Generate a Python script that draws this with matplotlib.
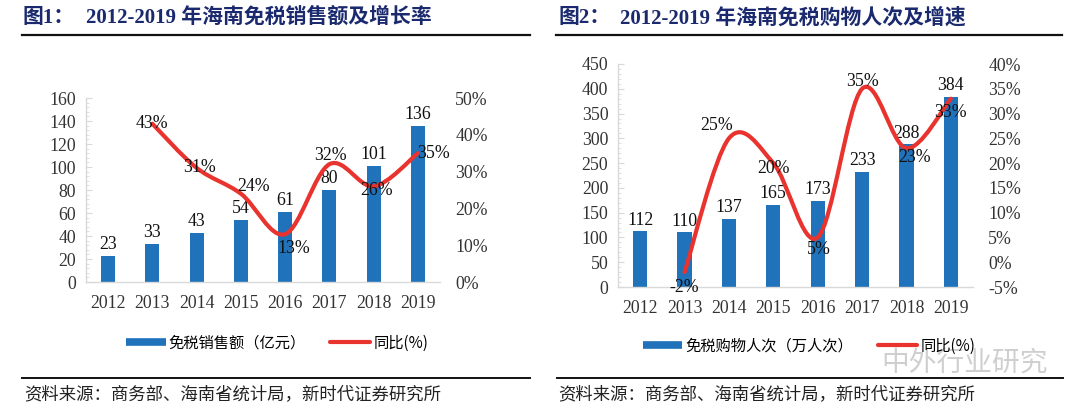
import matplotlib
matplotlib.use("Agg")
import matplotlib.pyplot as plt
from matplotlib.path import Path
from matplotlib.patches import PathPatch
from matplotlib.lines import Line2D
from matplotlib.ticker import MultipleLocator, FuncFormatter

years = ["2012", "2013", "2014", "2015", "2016", "2017", "2018", "2019"]

# 图1: 销售额 (亿元) and 同比
sales = [23, 33, 43, 54, 61, 80, 101, 136]
sales_yoy = [None, 43, 31, 24, 13, 32, 26, 35]

# 图2: 购物人次 (万人次) and 同比
visits = [112, 110, 137, 165, 173, 233, 288, 384]
visits_yoy = [None, -2, 25, 20, 5, 35, 23, 33]

BLUE = "#2072BA"
RED = "#E8332E"
NAVY = "#1B2A6E"
SERIF = ["Liberation Serif", "Noto Sans CJK SC"]
CJK = ["Noto Sans CJK SC", "DejaVu Sans"]
FS = 12.8


def smooth_path(xs, ys):
    # excel style smoothed line: cubic bezier through the points
    pts = list(zip(xs, ys))
    verts = [pts[0]]
    codes = [Path.MOVETO]
    n = len(pts)
    for i in range(n - 1):
        p0 = pts[i - 1] if i > 0 else pts[i]
        p1 = pts[i]
        p2 = pts[i + 1]
        p3 = pts[i + 2] if i + 2 < n else pts[i + 1]
        c1 = (p1[0] + (p2[0] - p0[0]) / 6, p1[1] + (p2[1] - p0[1]) / 6)
        c2 = (p2[0] - (p3[0] - p1[0]) / 6, p2[1] - (p3[1] - p1[1]) / 6)
        verts += [c1, c2, p2]
        codes += [Path.CURVE4] * 3
    return Path(verts, codes)


def draw_panel(fig, rect, values, yoy, ylim, ystep, yminor, plim, pstep,
               pct_offsets):
    ax = fig.add_axes(rect)
    x = list(range(len(years)))
    ax.bar(x, values, width=0.32, color=BLUE, zorder=2)
    ax.set_xlim(-0.5, len(years) - 0.5)
    ax.set_ylim(*ylim)
    ax.yaxis.set_major_locator(MultipleLocator(ystep))
    ax.yaxis.set_minor_locator(MultipleLocator(yminor))
    ax.set_xticks(x)
    ax.set_xticklabels(years)
    for s in ["top", "right"]:
        ax.spines[s].set_visible(False)
    for s in ["left", "bottom"]:
        ax.spines[s].set_color("#D9D9D9")
        ax.spines[s].set_linewidth(1.0)
    ax.tick_params(axis="y", which="major", direction="in", length=4,
                   color="#D9D9D9", labelsize=FS, labelcolor="#333333", pad=7)
    ax.tick_params(axis="y", which="minor", direction="in", length=2.5,
                   color="#D9D9D9")
    ax.tick_params(axis="x", length=0, labelsize=FS, labelcolor="#333333", pad=9)
    for lab in ax.get_xticklabels() + ax.get_yticklabels():
        lab.set_family(SERIF)

    for xi, v in zip(x, values):
        ax.annotate(str(v), (xi, v), xytext=(0, 2), textcoords="offset points",
                    ha="center", va="bottom", fontsize=FS, family=SERIF,
                    color="#111111", zorder=4)

    ax2 = ax.twinx()
    ax2.set_ylim(*plim)
    ax2.yaxis.set_major_locator(MultipleLocator(pstep))
    ax2.yaxis.set_major_formatter(FuncFormatter(lambda v, p: "%d%%" % round(v)))
    for s in ["top", "right", "left", "bottom"]:
        ax2.spines[s].set_visible(False)
    ax2.tick_params(axis="y", length=0, labelsize=FS, labelcolor="#333333", pad=11)
    for lab in ax2.get_yticklabels():
        lab.set_family(SERIF)

    px = [xi for xi, v in zip(x, yoy) if v is not None]
    py = [v for v in yoy if v is not None]
    patch = PathPatch(smooth_path(px, py), facecolor="none", edgecolor=RED,
                      lw=3.0, capstyle="round", joinstyle="round",
                      transform=ax2.transData, zorder=3)
    ax2.add_patch(patch)
    for xi, v, off in zip(px, py, pct_offsets):
        ax2.annotate("%d%%" % v, (xi, v), xytext=off, textcoords="offset points",
                     ha="center", va="center", fontsize=FS, family=SERIF,
                     color="#111111", zorder=5)
    return ax, ax2


fig = plt.figure(figsize=(10.8, 4.11), dpi=100)

W, H = 1080.0, 411.0

# left panel
draw_panel(fig, [86 / W, 1 - 282 / H, 354 / W, 184 / H], sales, sales_yoy,
           (0, 160), 20, 4, (0, 50), 10,
           [(0, 0), (2, 0), (9, 5), (6, -10), (1, 6), (2, -3), (11, 0)])
# right panel
draw_panel(fig, [618 / W, 1 - 287 / H, 355 / W, 223 / H], visits, visits_yoy,
           (0, 450), 50, 10, (-5, 40), 5,
           [(0, -11), (-9, 9), (0, -4), (1, -9), (0, 5), (6, -7), (0, -10)])

# titles
for x0, x1, num, title in [(23, 86, "图1：", "2012-2019 年海南免税销售额及增长率"),
                           (558, 620, "图2：", "2012-2019 年海南免税购物人次及增速")]:
    fig.text(x0 / W, 1 - 18 / H, num, fontsize=15, fontweight="bold",
             family=SERIF, color=NAVY, va="center")
    fig.text(x1 / W, 1 - 18 / H, title, fontsize=15, fontweight="bold",
             family=SERIF, color=NAVY, va="center")

# rules
for x0, x1 in [(22, 530), (556, 1062)]:
    fig.add_artist(Line2D([x0 / W, x1 / W], [1 - 35 / H] * 2, color="#111111", lw=1.6))
for x0, x1 in [(22, 530), (557, 1063)]:
    fig.add_artist(Line2D([x0 / W, x1 / W], [1 - 378 / H] * 2, color="#111111", lw=1.4))

# legends
for cx, cy, label in [(277, 343, "免税销售额（亿元）"), (809, 346, "免税购物人次（万人次）")]:
    handles = [Line2D([], [], color=BLUE, lw=5.5, solid_capstyle="butt"),
               Line2D([], [], color=RED, lw=3.0, solid_capstyle="round")]
    fig.legend(handles, [label, "同比(%)"], loc="center",
               bbox_to_anchor=(cx / W, 1 - cy / H), ncol=2, frameon=False,
               handlelength=2.6, handletextpad=0.2, columnspacing=1.6,
               prop={"family": CJK, "size": 11})

# watermark
fig.text(965 / W, 1 - 364 / H, "中外行业研究", fontsize=20, family=CJK,
         color="#BBBBBB", alpha=0.7, ha="center", va="center")

# sources
for x0 in [24, 558]:
    fig.text(x0 / W, 1 - 394 / H, "资料来源：商务部、海南省统计局，新时代证券研究所",
             fontsize=12.5, family=CJK, color="#222222", va="center")

fig.savefig("out.png", dpi=100)
